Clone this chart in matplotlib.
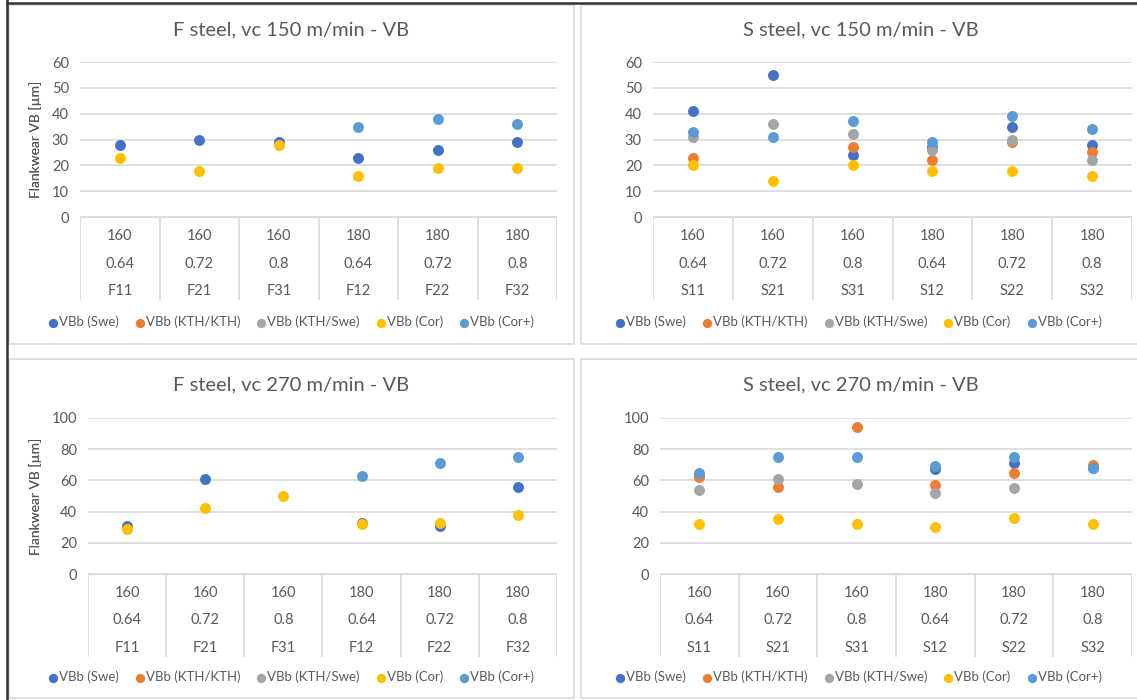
import numpy as np
import matplotlib
matplotlib.use('Agg')
import matplotlib.pyplot as plt
from matplotlib.lines import Line2D
from matplotlib.patches import Rectangle

nan = np.nan

series = ['VBb (Swe)', 'VBb (KTH/KTH)', 'VBb (KTH/Swe)', 'VBb (Cor)', 'VBb (Cor+)']
colors = ['#4472C4', '#ED7D31', '#A5A5A5', '#FFC000', '#5B9BD5']

speed = ['160', '160', '160', '180', '180', '180']
feed = ['0.64', '0.72', '0.8', '0.64', '0.72', '0.8']
f_codes = ['F11', 'F21', 'F31', 'F12', 'F22', 'F32']
s_codes = ['S11', 'S21', 'S31', 'S12', 'S22', 'S32']

# F steel, vc 150
f150_swe = [28, 30, 29, 23, 26, 29]
f150_kth = [nan, nan, nan, nan, nan, nan]
f150_kthswe = [nan, nan, nan, nan, nan, nan]
f150_cor = [23, 18, 28, 16, 19, 19]
f150_corp = [nan, nan, nan, 35, 38, 36]

# S steel, vc 150
s150_swe = [41, 55, 24, 27, 35, 28]
s150_kth = [23, nan, 27, 22, 29, 25]
s150_kthswe = [31, 36, 32, 26, 30, 22]
s150_cor = [20, 14, 20, 18, 18, 16]
s150_corp = [33, 31, 37, 29, 39, 34]

# F steel, vc 270
f270_swe = [31, 61, nan, 33, 31, 56]
f270_kth = [nan, nan, nan, nan, nan, nan]
f270_kthswe = [nan, nan, nan, nan, nan, nan]
f270_cor = [29, 42, 50, 32, 33, 38]
f270_corp = [nan, nan, nan, 63, 71, 75]

# S steel, vc 270
s270_swe = [63, nan, nan, 67, 71, 68]
s270_kth = [62, 56, 94, 57, 65, 70]
s270_kthswe = [54, 61, 58, 52, 55, nan]
s270_cor = [32, 35, 32, 30, 36, 32]
s270_corp = [65, 75, 75, 69, 75, 68]

plt.rcParams['font.family'] = ['Lato', 'DejaVu Sans']
txt = '#595959'
grid = '#d9d9d9'

W, H = 1137, 700
fig = plt.figure(figsize=(W / 100, H / 100), dpi=100)


def box(x0, y0, x1, y1):
    # pixel box (top-left origin) -> figure fraction
    return [x0 / W, 1 - y1 / H, (x1 - x0) / W, (y1 - y0) / H]


def panel(frame, plot, title_y, legend_y, title, ymax, ystep, codes, data):
    fx0, fy0, fx1, fy1 = frame
    fig.patches.append(Rectangle((fx0 / W, 1 - fy1 / H), (fx1 - fx0) / W, (fy1 - fy0) / H,
                                 transform=fig.transFigure, fill=False,
                                 edgecolor=grid, lw=1.2))
    px0, py0, px1, py1 = plot
    ax = fig.add_axes(box(px0, py0, px1, py1))
    for vals, name, c in zip(data, series, colors):
        ax.scatter(range(6), vals, s=62, color=c, label=name, zorder=3,
                   clip_on=False, linewidths=0)
    ax.set_xlim(-0.5, 5.5)
    ax.set_ylim(0, ymax)
    ax.set_yticks(np.arange(0, ymax + 1, ystep))
    ax.yaxis.grid(True, color=grid, lw=1.2)
    ax.set_axisbelow(True)
    for s in ax.spines.values():
        s.set_visible(False)
    ax.set_xticks([])
    ax.tick_params(axis='y', length=0, labelsize=10.5, labelcolor=txt, pad=8)
    ax.set_ylabel('Flankwear VB [µm]', fontsize=10, color=txt)
    ax.yaxis.set_label_coords((42 - px0) / (px1 - px0), 0.5)

    # multi-level category axis below the plot
    cax = fig.add_axes(box(px0, py1, px1, py1 + 83))
    cax.set_xlim(-0.5, 5.5)
    cax.set_ylim(83, 0)
    cax.vlines(np.arange(-0.5, 6), 0, 83, color=grid, lw=1.2)
    cax.axhline(0, color=grid, lw=1.5)
    for i in range(6):
        cax.text(i, 19, speed[i], ha='center', va='center', fontsize=10.5, color=txt)
        cax.text(i, 46.5, feed[i], ha='center', va='center', fontsize=10.5, color=txt)
        cax.text(i, 74, codes[i], ha='center', va='center', fontsize=10.5, color=txt)
    cax.axis('off')

    fig.text((fx0 + fx1) / 2 / W, 1 - title_y / H, title, ha='center', va='center',
             fontsize=14.5, color=txt)
    ax.legend(loc='center', bbox_to_anchor=((min(fx1, W) + fx0) / 2 / W, 1 - legend_y / H),
              bbox_transform=fig.transFigure, ncol=5, frameon=False, fontsize=9.5,
              handletextpad=0.15, columnspacing=1.3, handlelength=0.6,
              labelcolor=txt, markerscale=0.85, borderpad=0)


panel((9, 5, 574, 344), (80, 62, 557, 217), 30, 322, 'F steel, vc 150 m/min - VB',
      60, 10, f_codes, [f150_swe, f150_kth, f150_kthswe, f150_cor, f150_corp])
panel((581, 5, 1140, 344), (653, 62, 1132, 217), 30, 322, 'S steel, vc 150 m/min - VB',
      60, 10, s_codes, [s150_swe, s150_kth, s150_kthswe, s150_cor, s150_corp])
panel((9, 359, 574, 698), (88, 418, 557, 574), 385, 677, 'F steel, vc 270 m/min - VB',
      100, 20, f_codes, [f270_swe, f270_kth, f270_kthswe, f270_cor, f270_corp])
panel((581, 359, 1140, 698), (660, 418, 1132, 574), 385, 677, 'S steel, vc 270 m/min - VB',
      100, 20, s_codes, [s270_swe, s270_kth, s270_kthswe, s270_cor, s270_corp])

# dark screenshot edge at top and left
fig.lines.append(Line2D([7 / W, 7 / W], [0, 1], transform=fig.transFigure, color='#333333', lw=1.8))
fig.lines.append(Line2D([7 / W, 1], [1 - 3 / H, 1 - 3 / H], transform=fig.transFigure, color='#333333', lw=1.8))

fig.savefig('out.png', dpi=100)
